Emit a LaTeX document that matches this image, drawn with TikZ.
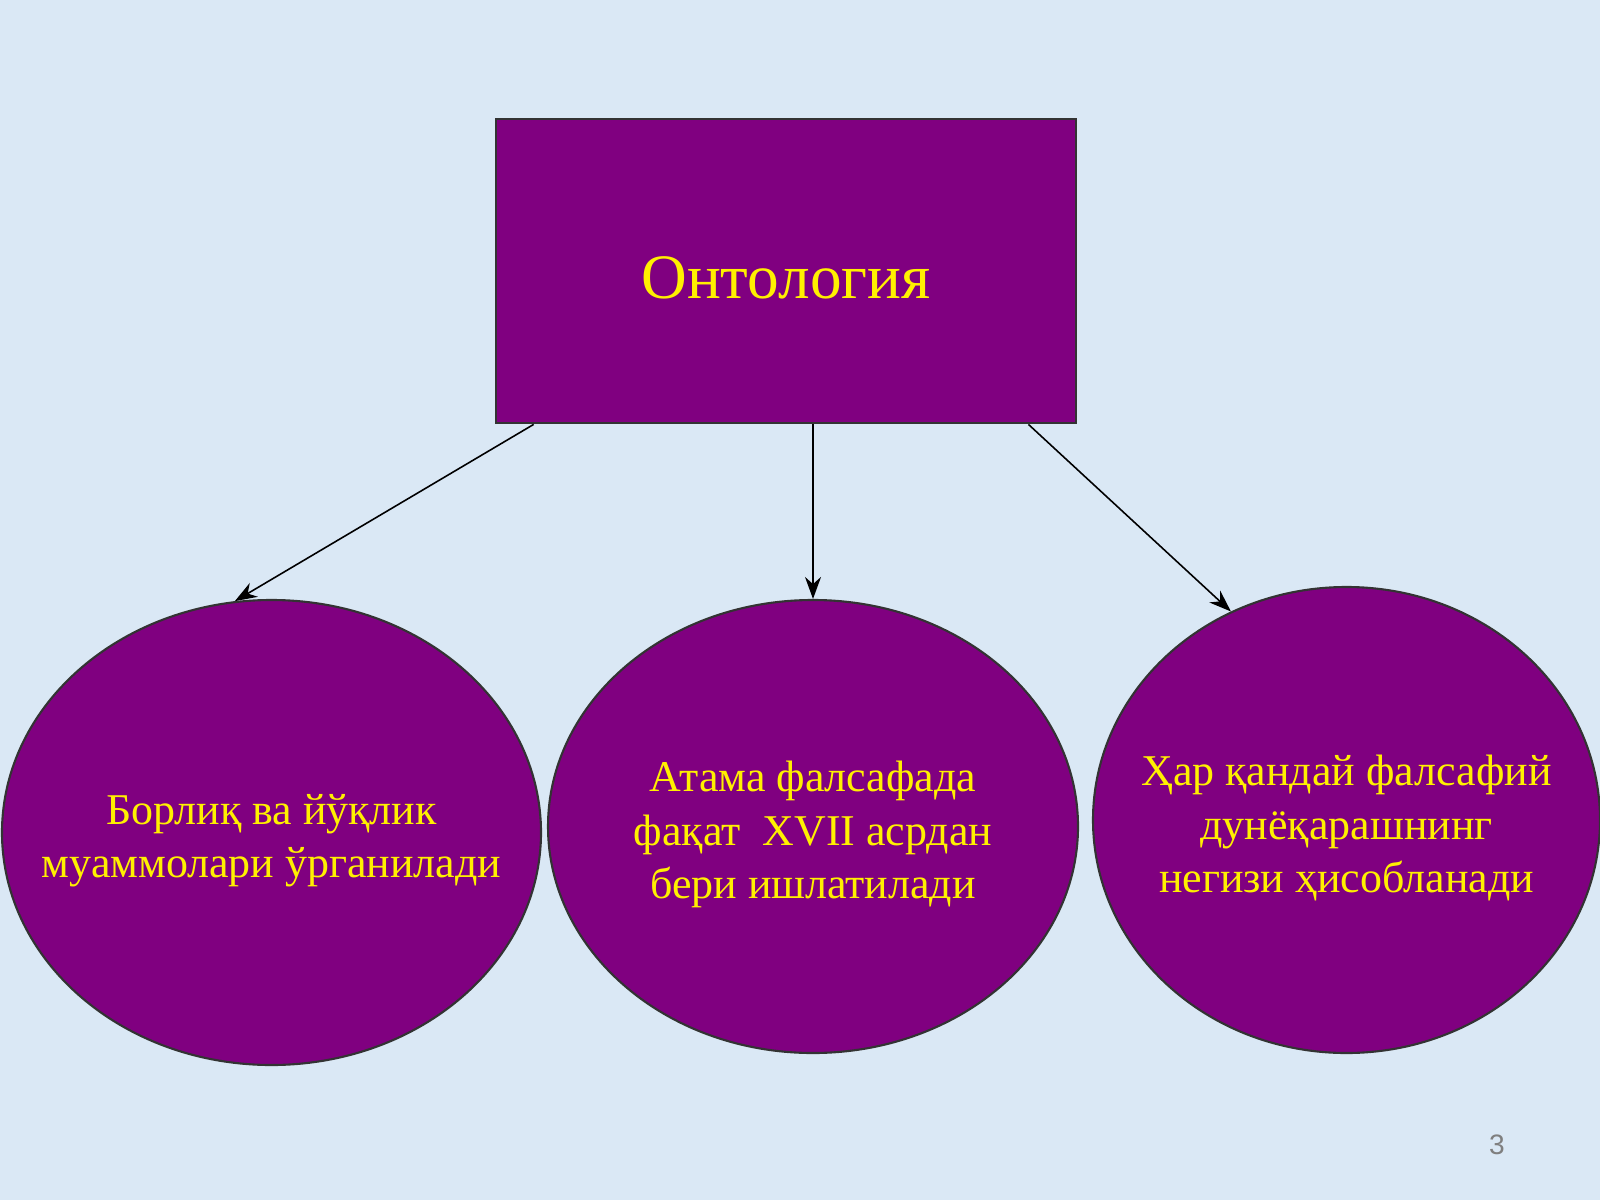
\documentclass[tikz,border=0pt]{standalone}
\usepackage{fontspec}
\setmainfont{Liberation Serif}
\setsansfont{Liberation Sans}
\usepackage{tikz}
\usetikzlibrary{shapes.geometric, arrows.meta, positioning, calc}
\definecolor{SlideBlue}{HTML}{DAE8F5}
\definecolor{TopicPurple}{HTML}{800080}
\definecolor{TopicYellow}{HTML}{FFF000}
\definecolor{PageGray}{HTML}{7F7F7F}
\tikzset{
  topicbox/.style={rectangle, draw=black!80, line width=0.8pt, fill=TopicPurple, minimum width=5.8cm, minimum height=3.04cm, inner sep=0pt},
  titletext/.style={text=TopicYellow, inner sep=0pt, font=\fontsize{18}{21}\selectfont, yshift=-0.07cm},
  ideaoval/.style={ellipse, draw=black!80, line width=0.6pt, fill=TopicPurple, inner sep=0pt},
  ideatext/.style={text=TopicYellow, inner sep=0pt, font=\fontsize{12.5}{15.2}\selectfont, align=center, yshift=-0.08cm},
  arrow/.style={-{Stealth[length=2.2mm, width=1.6mm]}, line width=0.45pt, black}
}
\begin{document}
\begin{tikzpicture}
  \fill[SlideBlue] (0,0) rectangle (16,12);
  \useasboundingbox (0,0) rectangle (16,12);

  \node[topicbox, label={[titletext]center:Онтология}] (onto) at (7.86,9.29) {};

  \node[ideaoval, minimum width=5.39cm, minimum height=4.65cm,
    label={[ideatext]center:Борлиқ ва йўқлик\\муаммолари ўрганилади}] (being) at (2.715,3.675) {};
  \node[ideaoval, minimum width=5.30cm, minimum height=4.53cm,
    label={[ideatext]center:Атама фалсафада\\фақат\ \ XVII асрдан\\бери ишлатилади}] (term) at (8.13,3.735) {};
  \node[ideaoval, minimum width=5.07cm, minimum height=4.66cm,
    label={[ideatext]center:Ҳар қандай фалсафий\\дунёқарашнинг\\негизи ҳисобланади}] (basis) at (13.465,3.80) {};

  \node[font=\sffamily\fontsize{8}{9}\selectfont, text=PageGray] (page) at (14.97,0.55) {3};

  \draw[arrow] ($(onto.south west)!0.067!(onto.south east)$) -- (being.99);
  \draw[arrow] (onto.south -| term.north) -- (term.north);
  \draw[arrow] ($(onto.south west)!0.916!(onto.south east)$) -- (basis.119.5);
\end{tikzpicture}
\end{document}
